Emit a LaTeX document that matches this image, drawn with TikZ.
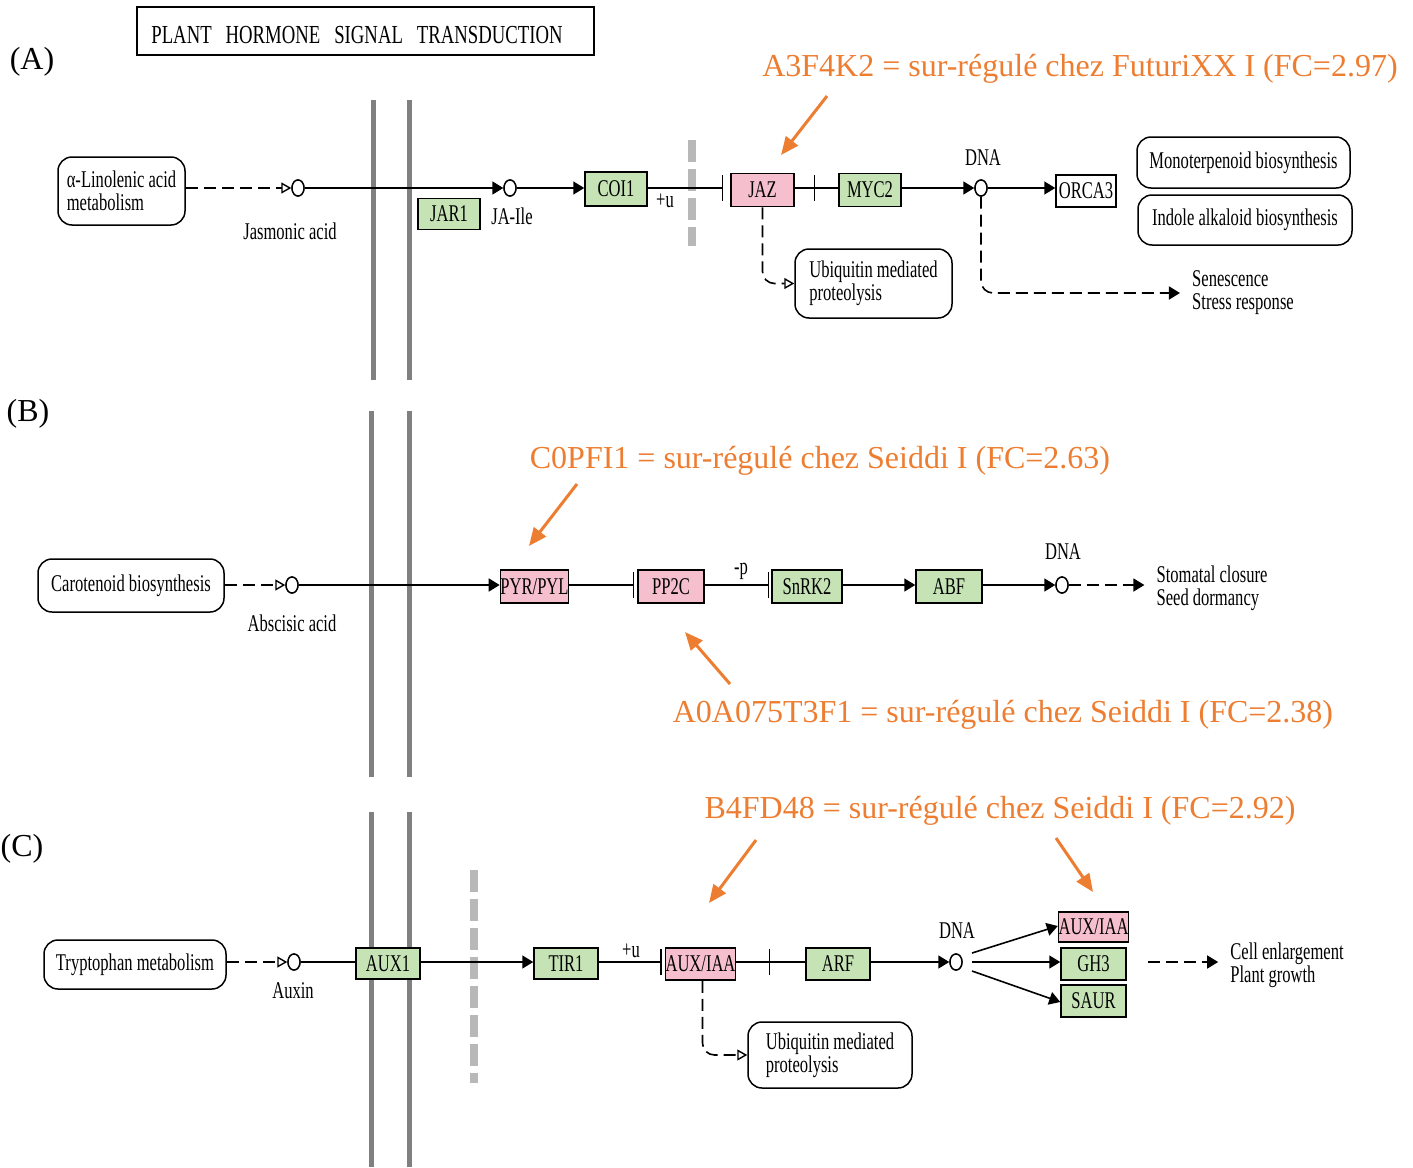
\documentclass[tikz,border=0pt]{standalone}
\usepackage{fontspec}
\setmainfont{Liberation Serif}
\newfontfamily\kf{Liberation Serif}[FakeStretch=0.69]
\newfontfamily\tf{Liberation Serif}[FakeStretch=0.72]
\usetikzlibrary{arrows.meta,shapes.geometric}
\definecolor{kgreen}{HTML}{C5E3B5}
\definecolor{kpink}{HTML}{F6BFCD}
\definecolor{korange}{HTML}{ED7D31}
\definecolor{mgray}{HTML}{808080}
\definecolor{lgray}{HTML}{B8B8B8}
\begin{document}
\begin{tikzpicture}[x=1pt,y=-1pt,
 kt/.style={font=\kf\fontsize{24}{23}\selectfont},
 gene/.style={kt,draw,line width=1.5pt,inner sep=0pt,minimum width=64pt,minimum height=32pt},
 gg/.style={gene,fill=kgreen},
 gp/.style={gene,fill=kpink},
 mapbox/.style={kt,draw,line width=1.5pt,rounded corners=14pt,align=left,inner sep=0pt},
 met/.style={draw,ellipse,line width=1.4pt,minimum width=12pt,minimum height=16pt,inner sep=0pt,fill=white},
 lab/.style={kt,inner sep=0pt,align=left},
 conn/.style={line width=1.6pt},
 act/.style={conn,-{Triangle[length=11pt,width=13pt]}},
 inh/.style={conn,-{Bar[width=26pt,line width=1.5pt]}},
 dsh/.style={conn,dash pattern=on 12pt off 6pt},
 openarr/.style={-{Triangle[open,length=10pt,width=11pt,line width=1.4pt]}},
 memb/.style={mgray,line width=5pt},
 mdash/.style={lgray,line width=8pt,dash pattern=on 22pt off 7pt},
 orl/.style={font=\fontsize{32}{34}\selectfont,text=korange,inner sep=0pt},
 ora/.style={korange,line width=3pt,-{Triangle[length=18pt,width=15pt]}},
 panel/.style={font=\fontsize{32}{34}\selectfont,inner sep=0pt}]
\useasboundingbox (0,0) rectangle (1413,1167);

% ---------- title and panel labels ----------
\node[draw,line width=2.5pt,minimum width=457pt,minimum height=48pt,inner sep=0pt] (titlebox) at (365.5,31) {};
\node[font=\tf\fontsize{26}{26}\selectfont,inner sep=0pt] (title) at (357,35) {PLANT\hspace{14pt}HORMONE\hspace{14pt}SIGNAL\hspace{14pt}TRANSDUCTION};
\node[panel] (pA) at (32,62) {(A)};
\node[panel] (pB) at (28,414) {(B)};
\node[panel] (pC) at (22,849) {(C)};

% ---------- membranes ----------
\draw[memb] (373,100) -- (373,380);
\draw[memb] (409,100) -- (409,380);
\draw[memb] (371,411) -- (371,777);
\draw[memb] (409,411) -- (409,777);
\draw[memb] (371,812) -- (371,1167);
\draw[memb] (409,812) -- (409,1167);
\draw[mdash] (692,140) -- (692,246);
\draw[mdash] (474,870) -- (474,1083);

% =================== (A) ===================
\node[mapbox,minimum width=127pt,minimum height=68pt] (lin) at (121.5,191) {α-Linolenic acid\\metabolism};
\node[met] (ja) at (298,188) {};
\node[lab] (jaT) at (290,231) {Jasmonic acid};
\node[met] (jaile) at (510,188) {};
\node[gg,minimum width=62pt,minimum height=31pt] (jar1) at (449,214) {JAR1};
\node[lab] (jaileT) at (512,216) {JA-Ile};
\node[gg,minimum width=62pt,minimum height=34pt] (coi1) at (616,189) {COI1};
\node[lab] (u1) at (665,201) {+u};
\node[gp,minimum width=63pt,minimum height=33pt] (jaz) at (762.5,190) {JAZ};
\node[gg,minimum width=62pt,minimum height=33pt] (myc2) at (870,190) {MYC2};
\node[met] (dnaA) at (981,188) {};
\node[lab] (dnaAT) at (983,158) {DNA};
\node[gene,minimum width=60pt,minimum height=32pt] (orca3) at (1086,191) {ORCA3};
\node[mapbox,minimum width=213pt,minimum height=51pt] (mono) at (1243.5,162.5) {Monoterpenoid biosynthesis};
\node[mapbox,minimum width=214pt,minimum height=50pt] (indole) at (1245,220) {Indole alkaloid biosynthesis};
\node[mapbox,minimum width=157pt,minimum height=69pt] (ubA) at (873.5,283.5) {Ubiquitin mediated\\proteolysis};
\node[lab] (senT) at (1243,293) {Senescence\\Stress response};
\coordinate (jzbar) at (815,189);

\draw[dsh,openarr] (lin.east |- ja) -- (ja.west);
\draw[act] (ja.east) -- (jaile.west);
\draw[act] (jaile.east) -- (coi1.west |- jaile);
\draw[inh,shorten >=7pt] (coi1.east |- jaile) -- (jaz.west |- jaile);
\draw[inh] (jaz.east |- jaile) -- (jzbar |- jaile);
\draw[conn] (jzbar |- jaile) -- (myc2.west |- jaile);
\draw[act] (myc2.east |- dnaA) -- (dnaA.west);
\draw[act] (dnaA.east) -- (orca3.west |- dnaA);
\draw[dsh,openarr,rounded corners=12pt] (jaz.south) |- (ubA.west);
\draw[dsh,-{Triangle[length=11pt,width=13pt]},rounded corners=12pt] (dnaA.south) |- ([xshift=-12pt]senT.west);
\node[met] at (ja) {};
\node[met] at (jaile) {};
\node[met] at (dnaA) {};

\node[orl] (oA) at (1080,69) {A3F4K2 = sur-régulé chez FuturiXX I (FC=2.97)};
\coordinate (oAs) at (827,96);
\coordinate (oAe) at (781,155);
\draw[ora] (oAs) -- (oAe);

% =================== (B) ===================
\node[mapbox,minimum width=186pt,minimum height=53pt] (carot) at (131,585.5) {Carotenoid biosynthesis};
\node[met] (aba) at (292,585) {};
\node[lab] (abaT) at (292,623) {Abscisic acid};
\node[gp,minimum width=67pt,minimum height=33pt] (pyr) at (534.5,586.5) {PYR/PYL};
\node[gp,minimum width=66pt,minimum height=33pt] (pp2c) at (671,586.5) {PP2C};
\node[gg,minimum width=70pt,minimum height=33pt] (snrk2) at (807,586.5) {SnRK2};
\node[lab] (pT) at (741,571) {-p};
\node[gg,minimum width=66pt,minimum height=33pt] (abf) at (949,586.5) {ABF};
\node[met] (dnaB) at (1062,585) {};
\node[lab] (dnaBT) at (1063,552) {DNA};
\node[lab] (stoT) at (1212,588) {Stomatal closure\\Seed dormancy};

\draw[dsh,openarr] (carot.east |- aba) -- (aba.west);
\draw[act] (aba.east) -- (pyr.west |- aba);
\draw[inh,shorten >=3pt] (pyr.east |- aba) -- (pp2c.west |- aba);
\draw[inh,shorten >=2pt] (pp2c.east |- aba) -- (snrk2.west |- aba);
\draw[act] (snrk2.east |- aba) -- (abf.west |- aba);
\draw[act] (abf.east |- dnaB) -- (dnaB.west);
\draw[dsh,-{Triangle[length=11pt,width=13pt]}] (dnaB.east) -- ([xshift=-12pt]stoT.west |- dnaB);
\node[met] at (aba) {};
\node[met] at (dnaB) {};

\node[orl] (oB1) at (820,461) {C0PFI1 = sur-régulé chez Seiddi I (FC=2.63)};
\node[orl] (oB2) at (1003,715) {A0A075T3F1 = sur-régulé chez Seiddi I (FC=2.38)};
\coordinate (oB1s) at (577,484);
\coordinate (oB1e) at (529,546);
\coordinate (oB2s) at (730,684);
\coordinate (oB2e) at (685,632);
\draw[ora] (oB1s) -- (oB1e);
\draw[ora] (oB2s) -- (oB2e);

% =================== (C) ===================
\node[mapbox,minimum width=182pt,minimum height=49pt] (tryp) at (135,964.5) {Tryptophan metabolism};
\node[met] (auxin) at (294,962) {};
\node[lab] (auxinT) at (293,991) {Auxin};
\node[gg,minimum width=64pt,minimum height=31pt] (aux1) at (388,963.5) {AUX1};
\node[gg,minimum width=64pt,minimum height=31pt] (tir1) at (566,963.5) {TIR1};
\node[lab] (u2) at (631,951) {+u};
\node[gp,minimum width=67pt,minimum height=32pt] (auxiaa) at (700.5,964) {AUX/IAA};
\node[gg,minimum width=64pt,minimum height=32pt] (arf) at (838,964) {ARF};
\coordinate (arbar) at (770,962);
\node[met] (dnaC) at (956,962) {};
\node[lab] (dnaCT) at (957,931) {DNA};
\node[gp,minimum width=65pt,minimum height=30pt] (auxiaa2) at (1093.5,927) {AUX/IAA};
\node[gg,minimum width=65pt,minimum height=32pt] (gh3) at (1093.5,964) {GH3};
\node[gg,minimum width=65pt,minimum height=32pt] (saur) at (1093.5,1001) {SAUR};
\node[mapbox,minimum width=164pt,minimum height=66pt] (ubC) at (830,1055) {Ubiquitin mediated\\proteolysis};
\node[lab] (cellT) at (1287,965) {Cell enlargement\\Plant growth};
\coordinate (cst) at (1148,962);
\coordinate (dCt) at (972,953);
\coordinate (dCm) at (972,962);
\coordinate (dCb) at (972,971);

\draw[dsh,openarr] (tryp.east |- auxin) -- (auxin.west);
\draw[conn] (auxin.east) -- (aux1.west |- auxin);
\draw[act] (aux1.east |- auxin) -- (tir1.west |- auxin);
\draw[inh,shorten >=3pt] (tir1.east |- auxin) -- (auxiaa.west |- auxin);
\draw[inh] (auxiaa.east |- auxin) -- (arbar);
\draw[conn] (arbar) -- (arf.west |- auxin);
\draw[act] (arf.east |- dnaC) -- (dnaC.west);
\draw[act] (dCt) -- ([yshift=1pt]auxiaa2.west);
\draw[act] (dCm) -- (gh3.west |- dnaC);
\draw[act] (dCb) -- ([yshift=-1pt]saur.west);
\draw[dsh,-{Triangle[length=11pt,width=13pt]}] (cst) -- ([xshift=-12pt]cellT.west |- cst);
\draw[dsh,openarr,rounded corners=12pt] ([xshift=2pt]auxiaa.south) |- (ubC.west);
\node[met] at (auxin) {};
\node[met] at (dnaC) {};

\node[orl] (oC) at (1000,811) {B4FD48 = sur-régulé chez Seiddi I (FC=2.92)};
\coordinate (oCs1) at (756,840);
\coordinate (oCe1) at (709,903);
\coordinate (oCs2) at (1056,838);
\coordinate (oCe2) at (1093,892);
\draw[ora] (oCs1) -- (oCe1);
\draw[ora] (oCs2) -- (oCe2);
\end{tikzpicture}
\end{document}
